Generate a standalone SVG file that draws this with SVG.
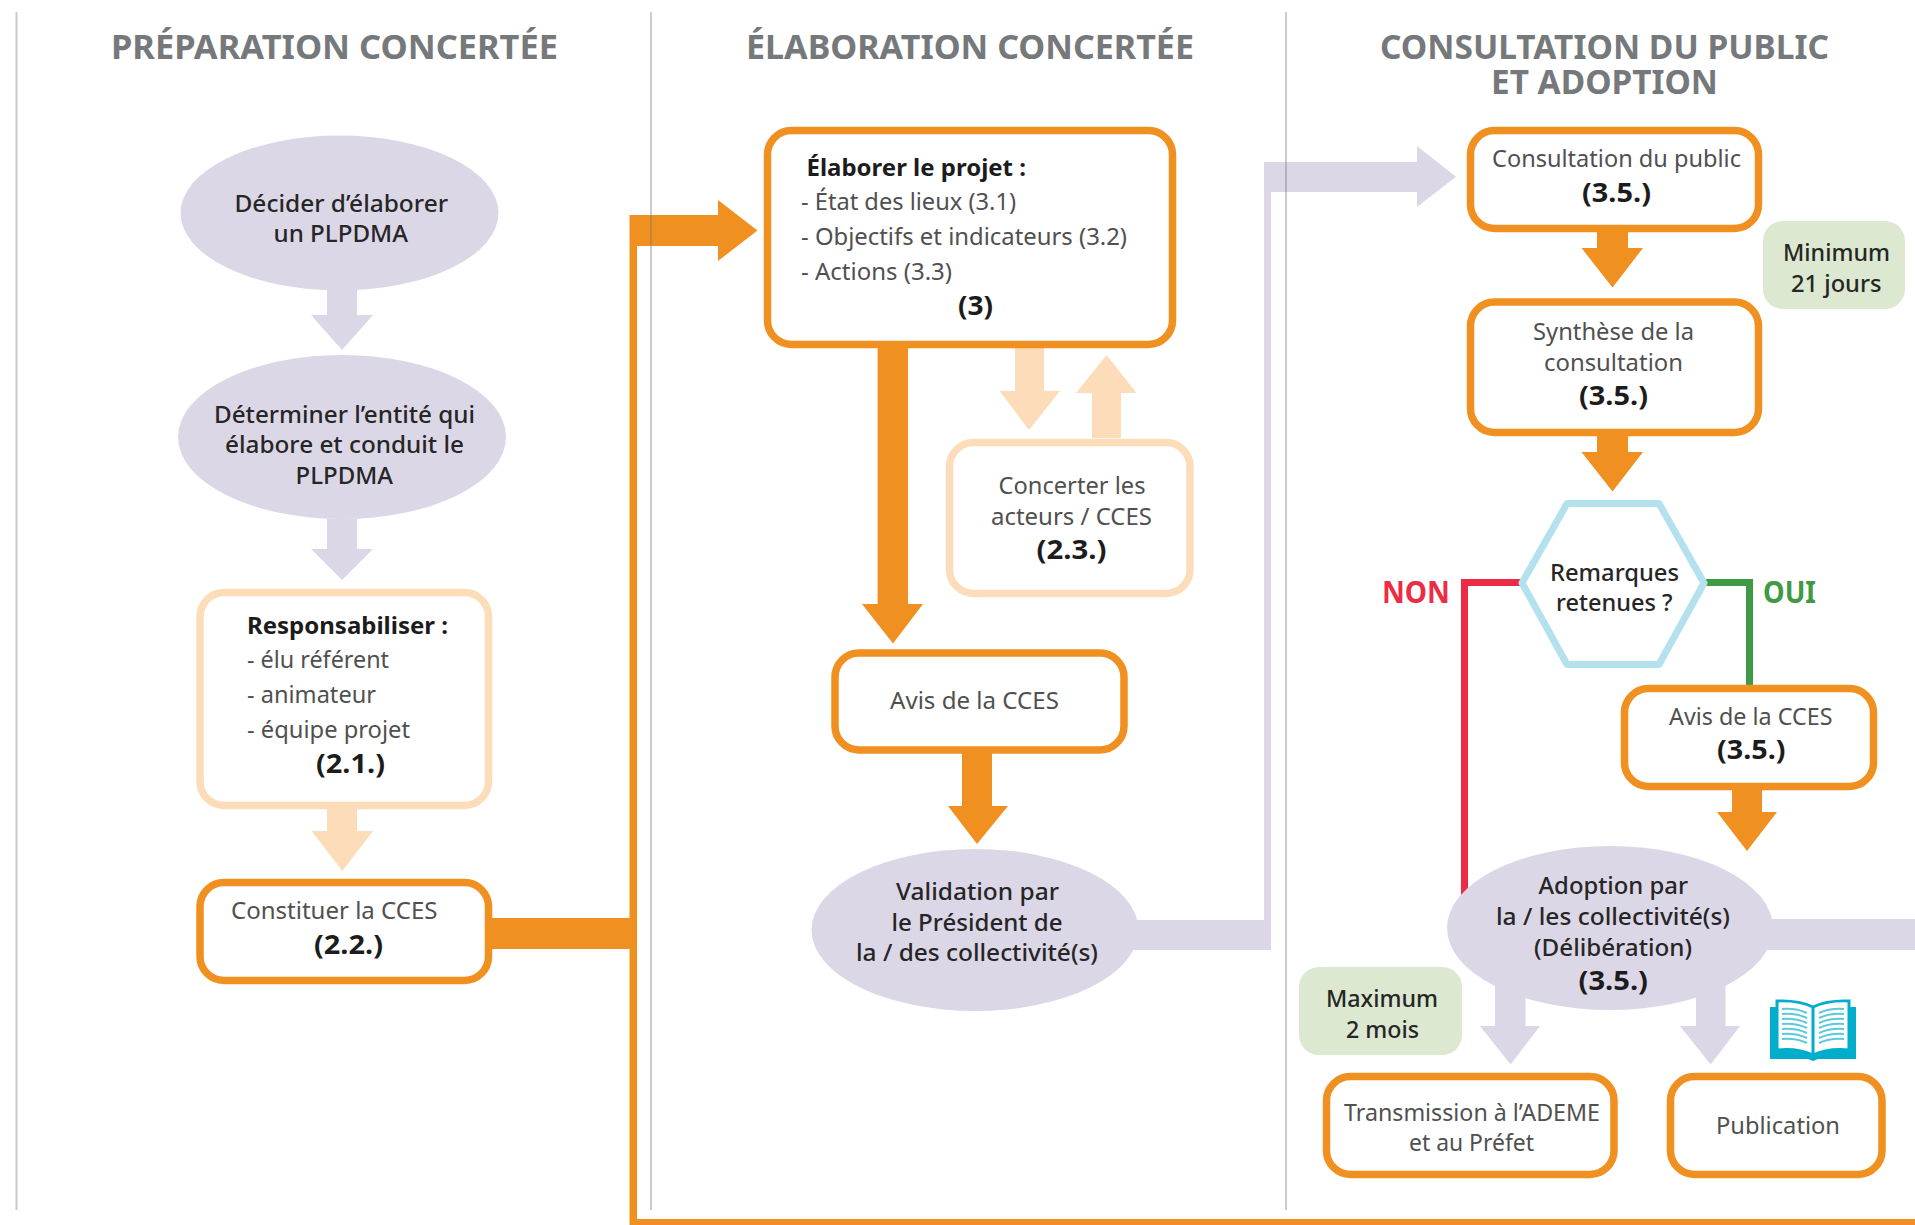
<svg xmlns="http://www.w3.org/2000/svg" width="1915" height="1225" viewBox="0 0 1915 1225">
<style>
text{font-family:"Noto Sans","Open Sans",sans-serif;font-size:23.500px;fill:#505050;font-weight:400}
.b{font-weight:700;fill:#1c1c1c;font-size:26.500px}
.r{font-weight:700;fill:#1c1c1c;font-size:24px}
.m{font-weight:500;fill:#262626;font-size:24px}
.h{font-weight:700;fill:#76797b;font-size:33.500px}
.o{fill:#fff;stroke:#f09020;stroke-width:7.500}
.l{fill:#fff;stroke:#fddcba;stroke-width:7.500}
.e{fill:#dcd7e7}
.g{fill:#dce8d0}
.co{fill:#f09020}.cl{fill:#fddcba}.cv{fill:#dcd7e7}
.d{stroke:#777;stroke-opacity:.38;stroke-width:2;fill:none}
</style>
<rect width="1915" height="1225" fill="#fff"/>
<g id="connectors">
<polygon class="cv" points="327,519 357,519 357,549 373,549 342,580 311,549 327,549"/>
<polygon class="cv" points="327,285 357,285 357,315 373,315 342,350 311,315 327,315"/>
<polygon class="cl" points="327,809 357,809 357,831 373,831 342.400,871 311.600,831 327,831"/>
<polygon class="co" points="492,918 629.500,918 629.500,215 718,215 718,200 757.500,230.500 718,261 718,246 637,246 637,1219 1915,1219 1915,1225 629.500,1225 629.500,949 492,949"/>
<polygon class="co" points="877.600,348 908,348 908,604 923,604 893,643.600 862,604 877.600,604"/>
<polygon class="cl" points="1015,348 1044,348 1044,391 1060,391 1029,430 999.500,391 1015,391"/>
<polygon class="cl" points="1092,438 1121,438 1121,393 1136.500,393 1106.600,355 1076,393 1092,393"/>
<polygon class="co" points="962,752 992,752 992,806 1008,806 977,844 948,806 962,806"/>
<polygon class="cv" points="1130,920 1264,920 1264,162 1417,162 1417,146 1456,176.700 1417,207 1417,192 1271,192 1271,950 1130,950"/>
<polygon class="co" points="1597,232 1628,232 1628,248 1643,248 1612.500,287.500 1581.500,248 1597,248"/>
<polygon class="co" points="1597,436 1628,436 1628,452 1643,452 1612.500,491.500 1581.500,452 1597,452"/>
<polygon class="co" points="1732,790 1762,790 1762,812 1777,812 1747,851 1717,812 1732,812"/>
<polyline points="1520,582.500 1464.500,582.500 1464.500,900" fill="none" stroke="#ee2b47" stroke-width="7"/>
<polyline points="1706,582.500 1749.500,582.500 1749.500,687" fill="none" stroke="#3e9a44" stroke-width="7"/>
<rect class="cv" x="1760" y="919" width="155" height="31"/>
<polygon class="cv" points="1495,985 1525.500,985 1525.500,1026 1540,1026 1510.600,1064.500 1480,1026 1495,1026"/>
<polygon class="cv" points="1696,985 1725.500,985 1725.500,1026 1740,1026 1710.600,1064.500 1680,1026 1696,1026"/>
</g>
<g id="dividers">
<line class="d" x1="16.500" y1="12" x2="16.500" y2="1210"/>
<line class="d" x1="651" y1="12" x2="651" y2="1210"/>
<line class="d" x1="1286" y1="12" x2="1286" y2="1210"/>
</g>
<g id="titles">
<text class="h" x="111" y="59" textLength="447" lengthAdjust="spacingAndGlyphs">PRÉPARATION CONCERTÉE</text>
<text class="h" x="746" y="59" textLength="448" lengthAdjust="spacingAndGlyphs">ÉLABORATION CONCERTÉE</text>
<text class="h" x="1380" y="59" textLength="449" lengthAdjust="spacingAndGlyphs">CONSULTATION DU PUBLIC</text>
<text class="h" x="1491" y="94" textLength="227" lengthAdjust="spacingAndGlyphs">ET ADOPTION</text>
</g>
<g id="n-decider">
<ellipse class="e" cx="339.500" cy="213" rx="159" ry="77.500"/>
<text class="m" x="234.500" y="211.500" textLength="213.500" lengthAdjust="spacingAndGlyphs">Décider d’élaborer</text>
<text class="m" x="273.500" y="242" textLength="134.500" lengthAdjust="spacingAndGlyphs">un PLPDMA</text>
</g>
<g id="n-determiner">
<ellipse class="e" cx="342" cy="437" rx="164" ry="82"/>
<text class="m" x="214" y="423" textLength="261" lengthAdjust="spacingAndGlyphs">Déterminer l’entité qui</text>
<text class="m" x="225" y="453" textLength="239" lengthAdjust="spacingAndGlyphs">élabore et conduit le</text>
<text class="m" x="295.500" y="484" textLength="97.500" lengthAdjust="spacingAndGlyphs">PLPDMA</text>
</g>
<g id="n-responsabiliser">
<rect class="l" x="200" y="592.500" width="288.500" height="213" rx="24"/>
<text class="r" x="247" y="634" textLength="201" lengthAdjust="spacingAndGlyphs">Responsabiliser :</text>
<text x="247" y="668" textLength="142" lengthAdjust="spacingAndGlyphs">- élu référent</text>
<text x="247" y="703" textLength="129" lengthAdjust="spacingAndGlyphs">- animateur</text>
<text x="247" y="738" textLength="163" lengthAdjust="spacingAndGlyphs">- équipe projet</text>
<text class="b" x="316" y="773" textLength="69" lengthAdjust="spacingAndGlyphs">(2.1.)</text>
</g>
<g id="n-constituer">
<rect class="o" x="200" y="882.500" width="288.500" height="98" rx="24"/>
<text x="231" y="919" textLength="206.500" lengthAdjust="spacingAndGlyphs">Constituer la CCES</text>
<text class="b" x="314" y="954" textLength="69" lengthAdjust="spacingAndGlyphs">(2.2.)</text>
</g>
<g id="n-elaborer">
<rect class="o" x="767.500" y="130.500" width="405" height="214" rx="24"/>
<text class="r" x="806.500" y="176" textLength="219.500" lengthAdjust="spacingAndGlyphs">Élaborer le projet :</text>
<text x="801" y="210" textLength="215" lengthAdjust="spacingAndGlyphs">- État des lieux (3.1)</text>
<text x="801" y="245" textLength="326" lengthAdjust="spacingAndGlyphs">- Objectifs et indicateurs (3.2)</text>
<text x="801" y="280" textLength="151" lengthAdjust="spacingAndGlyphs">- Actions (3.3)</text>
<text class="b" x="958" y="315" textLength="35" lengthAdjust="spacingAndGlyphs">(3)</text>
</g>
<g id="n-concerter">
<rect class="l" x="949.500" y="442.500" width="240.500" height="151" rx="24"/>
<text x="998.500" y="494" textLength="147" lengthAdjust="spacingAndGlyphs">Concerter les</text>
<text x="991" y="525" textLength="161" lengthAdjust="spacingAndGlyphs">acteurs / CCES</text>
<text class="b" x="1036.500" y="559" textLength="70" lengthAdjust="spacingAndGlyphs">(2.3.)</text>
</g>
<g id="n-avis1">
<rect class="o" x="835" y="653" width="289" height="97" rx="24"/>
<text x="890" y="709" textLength="169" lengthAdjust="spacingAndGlyphs">Avis de la CCES</text>
</g>
<g id="n-validation">
<ellipse class="e" cx="975" cy="930" rx="163.500" ry="81"/>
<text class="m" x="896" y="900" textLength="163" lengthAdjust="spacingAndGlyphs">Validation par</text>
<text class="m" x="891.500" y="931" textLength="171" lengthAdjust="spacingAndGlyphs">le Président de</text>
<text class="m" x="856" y="961" textLength="242" lengthAdjust="spacingAndGlyphs">la / des collectivité(s)</text>
</g>
<g id="n-consultation">
<rect class="o" x="1470.500" y="130.500" width="288" height="98" rx="24"/>
<text x="1492" y="167" textLength="249" lengthAdjust="spacingAndGlyphs">Consultation du public</text>
<text class="b" x="1582" y="202" textLength="69" lengthAdjust="spacingAndGlyphs">(3.5.)</text>
</g>
<g id="n-minimum">
<rect class="g" x="1763" y="221" width="142" height="88" rx="20"/>
<text class="m" x="1783" y="261" textLength="107" lengthAdjust="spacingAndGlyphs">Minimum</text>
<text class="m" x="1791" y="292" textLength="90.500" lengthAdjust="spacingAndGlyphs">21 jours</text>
</g>
<g id="n-synthese">
<rect class="o" x="1470.500" y="302" width="288" height="130.500" rx="24"/>
<text x="1533" y="340" textLength="161" lengthAdjust="spacingAndGlyphs">Synthèse de la</text>
<text x="1544" y="371" textLength="139" lengthAdjust="spacingAndGlyphs">consultation</text>
<text class="b" x="1579" y="405" textLength="69" lengthAdjust="spacingAndGlyphs">(3.5.)</text>
</g>
<g id="n-remarques">
<polygon points="1567,503.500 1659,503.500 1704,583 1659,664.500 1567,664.500 1522,583" fill="#fff" stroke="#b3e2ee" stroke-width="7" stroke-linejoin="round"/>
<text class="m" x="1550" y="580.500" textLength="129" lengthAdjust="spacingAndGlyphs">Remarques</text>
<text class="m" x="1556" y="611" textLength="116.500" lengthAdjust="spacingAndGlyphs">retenues ?</text>
</g>
<g id="labels">
<text x="1382" y="603" textLength="68" lengthAdjust="spacingAndGlyphs" style="font-size:31px;font-weight:700;fill:#ee2b47">NON</text>
<text x="1763" y="603" textLength="53" lengthAdjust="spacingAndGlyphs" style="font-size:31px;font-weight:700;fill:#3e9a44">OUI</text>
</g>
<g id="n-avis2">
<rect class="o" x="1624.500" y="688.500" width="249" height="98" rx="24"/>
<text x="1669" y="725" textLength="163.500" lengthAdjust="spacingAndGlyphs">Avis de la CCES</text>
<text class="b" x="1717" y="759" textLength="68.500" lengthAdjust="spacingAndGlyphs">(3.5.)</text>
</g>
<g id="n-adoption">
<ellipse class="e" cx="1610" cy="928" rx="163" ry="82"/>
<text class="m" x="1538.500" y="894" textLength="149.500" lengthAdjust="spacingAndGlyphs">Adoption par</text>
<text class="m" x="1496" y="925" textLength="234" lengthAdjust="spacingAndGlyphs">la / les collectivité(s)</text>
<text class="m" x="1534" y="956" textLength="158" lengthAdjust="spacingAndGlyphs">(Délibération)</text>
<text class="b" x="1578.500" y="990" textLength="69.500" lengthAdjust="spacingAndGlyphs">(3.5.)</text>
</g>
<g id="n-maximum">
<rect class="g" x="1299" y="967" width="163" height="88" rx="20"/>
<text class="m" x="1326" y="1007" textLength="112" lengthAdjust="spacingAndGlyphs">Maximum</text>
<text class="m" x="1346" y="1038" textLength="73" lengthAdjust="spacingAndGlyphs">2 mois</text>
</g>
<g id="n-transmission">
<rect class="o" x="1326.500" y="1076.500" width="287.500" height="98" rx="24"/>
<text x="1344" y="1121" textLength="256" lengthAdjust="spacingAndGlyphs">Transmission à l’ADEME</text>
<text x="1409" y="1151" textLength="125" lengthAdjust="spacingAndGlyphs">et au Préfet</text>
</g>
<g id="n-publication">
<rect class="o" x="1670.500" y="1076.500" width="211.500" height="98" rx="24"/>
<text x="1716" y="1134" textLength="124" lengthAdjust="spacingAndGlyphs">Publication</text>
</g>
<g id="book" fill="none" stroke="#00aecb">
<path d="M1770,1007V1059H1808L1813,1061L1818,1059H1856V1007H1850V1050Q1830,1048 1813,1055Q1796,1048 1776,1050V1007Z" fill="#00aecb" stroke="none"/>
<path d="M1777,1001Q1798,1000 1813,1007Q1828,1000 1849,1001V1050Q1828,1048 1813,1055Q1798,1048 1777,1050ZM1813,1007V1055" fill="#fff" stroke-width="3"/>
<path d="M1782,1009Q1796,1008 1807,1013M1782,1014Q1796,1013 1807,1018M1782,1019Q1796,1018 1807,1023M1782,1024Q1796,1023 1807,1028M1782,1029Q1796,1028 1807,1033M1782,1034Q1796,1033 1807,1038M1782,1039Q1796,1038 1807,1043M1844,1009Q1830,1008 1819,1013M1844,1014Q1830,1013 1819,1018M1844,1019Q1830,1018 1819,1023M1844,1024Q1830,1023 1819,1028M1844,1029Q1830,1028 1819,1033M1844,1034Q1830,1033 1819,1038M1844,1039Q1830,1038 1819,1043" stroke="#5cc8dc" stroke-width="2"/>
</g>
</svg>
